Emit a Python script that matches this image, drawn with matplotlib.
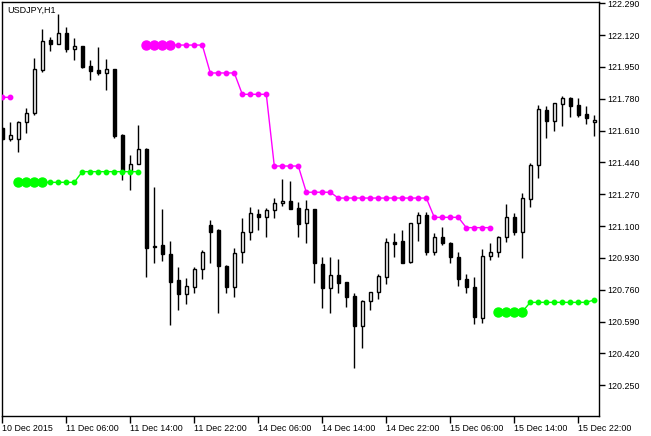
import numpy as np
import matplotlib.pyplot as plt

plt.rcParams['font.family'] = ['Liberation Sans', 'DejaVu Sans']

# bar data, H1 USDJPY
opens = [121.624, 121.564, 121.564, 121.655, 121.703, 121.934, 122.094, 122.071, 122.130, 122.048,
         122.062, 121.955, 121.934, 121.920, 121.939, 121.587, 121.391, 121.430, 121.512, 120.994,
         120.999, 120.951, 120.812, 120.739, 120.777, 120.870, 121.106, 121.079, 120.887, 120.777,
         120.960, 121.067, 121.163, 121.147, 121.186, 121.222, 121.234, 121.195, 121.115, 121.190,
         120.896, 120.768, 120.839, 120.800, 120.727, 120.568, 120.700, 120.747, 120.830, 121.017,
         121.021, 120.907, 121.115, 121.160, 120.960, 121.044, 121.008, 120.937, 120.816, 120.774,
         120.608, 120.942, 120.960, 121.044, 121.147, 121.070, 121.243, 121.427, 121.720, 121.663,
         121.752, 121.783, 121.747, 121.697, 121.655]
highs = [121.630, 121.655, 121.660, 121.733, 121.996, 122.151, 122.112, 122.231, 122.165, 122.106,
         122.062, 121.987, 122.058, 121.991, 121.939, 121.590, 121.480, 121.640, 121.515, 121.311,
         121.192, 121.021, 120.880, 120.822, 120.880, 120.973, 121.133, 121.083, 120.890, 120.982,
         121.145, 121.201, 121.190, 121.198, 121.249, 121.352, 121.341, 121.230, 121.240, 121.190,
         120.934, 120.934, 120.923, 120.802, 120.741, 120.706, 120.747, 120.843, 121.035, 121.062,
         121.079, 121.118, 121.174, 121.177, 121.065, 121.094, 121.017, 120.964, 120.844, 120.830,
         120.978, 121.008, 121.048, 121.217, 121.169, 121.275, 121.436, 121.747, 121.742, 121.756,
         121.795, 121.790, 121.783, 121.742, 121.694]
lows = [121.560, 121.556, 121.498, 121.599, 121.694, 121.925, 122.037, 122.071, 122.028, 121.987,
        121.944, 121.880, 121.907, 121.827, 121.569, 121.346, 121.293, 121.430, 120.830, 120.902,
        120.915, 120.572, 120.652, 120.684, 120.745, 120.818, 120.905, 120.635, 120.742, 120.720,
        120.905, 121.026, 121.079, 121.040, 121.142, 121.208, 121.190, 121.044, 121.012, 120.798,
        120.665, 120.638, 120.745, 120.670, 120.341, 120.451, 120.652, 120.711, 120.791, 120.937,
        120.905, 120.905, 121.022, 120.946, 120.946, 120.999, 120.905, 120.780, 120.742, 120.576,
        120.584, 120.919, 120.937, 121.017, 121.053, 120.931, 121.204, 121.359, 121.569, 121.610,
        121.635, 121.681, 121.684, 121.645, 121.581]
closes = [121.565, 121.585, 121.655, 121.703, 121.938, 122.090, 122.071, 122.130, 122.046, 122.060,
          121.951, 121.930, 121.920, 121.938, 121.583, 121.391, 121.430, 121.510, 120.985, 120.987,
          120.950, 120.803, 120.739, 120.780, 120.870, 120.962, 121.070, 120.887, 120.777, 120.955,
          121.067, 121.169, 121.147, 121.186, 121.222, 121.234, 121.190, 121.110, 121.190, 120.902,
          120.771, 120.839, 120.798, 120.723, 120.568, 120.700, 120.747, 120.834, 121.014, 121.003,
          120.905, 121.115, 121.160, 120.964, 121.044, 121.008, 120.937, 120.816, 120.774, 120.613,
          120.942, 120.960, 121.044, 121.150, 121.070, 121.249, 121.427, 121.724, 121.663, 121.756,
          121.783, 121.742, 121.694, 121.679, 121.667]

nan = np.nan
# resistance (magenta) and support (green) levels per bar
resist = [121.788] * 2 + [nan] * 16 + [122.067] * 8 + [121.918] * 4 + [121.804] * 4 + \
         [121.421] * 4 + [121.281] * 4 + [121.250] * 12 + [121.147] * 4 + [121.092] * 4 + [nan] * 13
support = [nan] * 2 + [121.334] * 8 + [121.391] * 8 + [nan] * 44 + [120.643] * 4 + \
          [120.693] * 8 + [120.706]
resist_big = [18, 19, 20, 21]
support_big = [2, 3, 4, 5, 62, 63, 64, 65]

tick_pos = [0, 8, 16, 24, 32, 40, 48, 56, 64, 72]
tick_lab = ['10 Dec 2015', '11 Dec 06:00', '11 Dec 14:00', '11 Dec 22:00', '14 Dec 06:00',
            '14 Dec 14:00', '14 Dec 22:00', '15 Dec 06:00', '15 Dec 14:00', '15 Dec 22:00']
price_ticks = [122.290, 122.120, 121.950, 121.780, 121.610, 121.440, 121.270,
               121.100, 120.930, 120.760, 120.590, 120.420, 120.250]

fig = plt.figure(figsize=(6.51, 4.36), dpi=100)
ax = fig.add_axes([2 / 651, 20 / 436, 597 / 651, 414 / 436])

x = np.arange(len(opens))
o = np.array(opens)
c = np.array(closes)

# wicks
ax.vlines(x, lows, highs, color='black', linewidth=1, zorder=2)
# bodies
up = c >= o
bottom = np.minimum(o, c)
height = np.maximum(np.abs(c - o), 0.002)
ax.bar(x[up], height[up], bottom=bottom[up], width=0.42, color='white',
       edgecolor='black', linewidth=1, zorder=3)
ax.bar(x[~up], height[~up], bottom=bottom[~up], width=0.42, color='black',
       edgecolor='black', linewidth=1, zorder=3)

# indicator lines
r = np.array(resist)
s = np.array(support)
ax.plot(x, r, color='#ff00ff', linewidth=1, marker='o', markersize=3.2, zorder=4)
ax.plot(x, s, color='#00ff00', linewidth=1, marker='o', markersize=3.2, zorder=4)
ax.plot(resist_big, r[resist_big], linestyle='none', marker='o', markersize=6.5,
        color='#ff00ff', zorder=5)
ax.plot(support_big, s[support_big], linestyle='none', marker='o', markersize=6.5,
        color='#00ff00', zorder=5)

ax.set_xlim(-0.04, 74.59)
ax.set_ylim(120.086, 122.297)

ax.yaxis.tick_right()
ax.set_yticks(price_ticks)
ax.set_yticklabels(['%.3f' % p for p in price_ticks])
ax.set_xticks(tick_pos)
ax.set_xticklabels(tick_lab, ha='left')
ax.tick_params(axis='y', direction='out', length=4, width=1, pad=2, labelsize=6.4)
ax.tick_params(axis='x', direction='out', length=5, width=1, pad=1, labelsize=6.4)
for sp in ax.spines.values():
    sp.set_linewidth(1)
    sp.set_color('black')

ax.text(0.008, 0.99, 'USDJPY,H1', transform=ax.transAxes, fontsize=6.5,
        va='top', ha='left')

fig.savefig('out.png', dpi=100)
